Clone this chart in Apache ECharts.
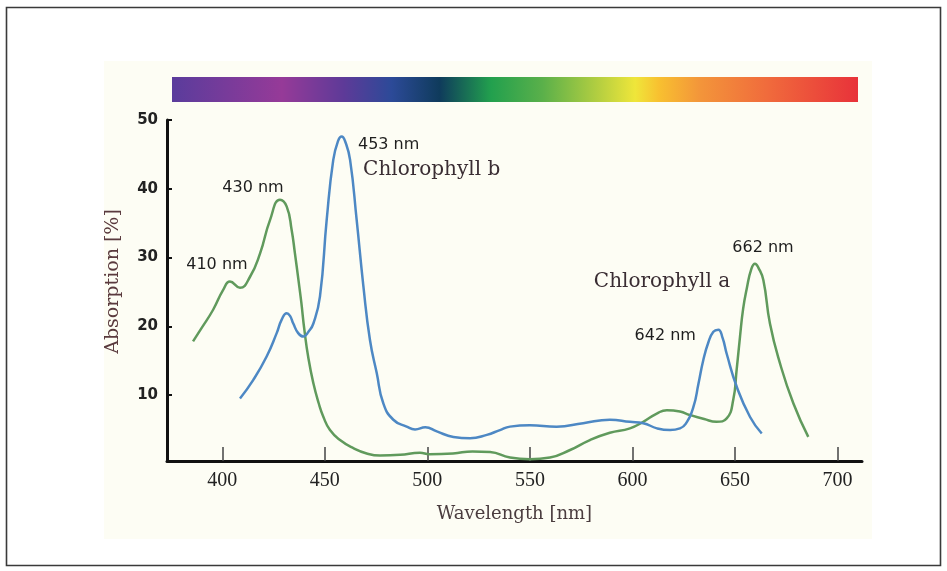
<!DOCTYPE html>
<html><head><meta charset="utf-8">
<script src="https://cdn.jsdelivr.net/npm/echarts@6/dist/echarts.min.js"></script>
<style>html,body{margin:0;padding:0;background:#fff}#c{width:947px;height:571px}</style>
</head><body><div id="c"></div>
<script>
const xTicks = [400, 450, 500, 550, 600, 650, 700];
const yTicks = [10, 20, 30, 40, 50];
const seriesNames = ['Chlorophyll a', 'Chlorophyll b'];
const axisNames = ['Wavelength [nm]', 'Absorption [%]'];

const chlA_nm = [385.7, 390, 395.5, 400.4, 403.7, 408.6, 413.5, 418.4, 423.2, 428.1, 431.4, 433.8, 435.4, 437, 438.5, 440, 442, 444.4, 447, 449.3, 452.5, 457.4, 463.7, 470.4, 476.9, 486.7, 496.4, 501, 512.5, 522, 530.6, 540.3, 550, 559.8, 569.6, 579.3, 589, 598.8, 605.3, 611.9, 616.8, 623.2, 628, 635, 641, 646, 649.2, 650.8, 652.5, 654, 655.8, 658, 659.8, 661.5, 663.9, 667.1, 672, 678.5, 685.8];
const chlA_abs = [17.8, 19.8, 22.4, 25.3, 26.5, 25.6, 27.2, 30.6, 35.4, 38.4, 37.4, 34, 30.6, 27, 23.5, 19.5, 15.3, 11.7, 8.8, 6.8, 4.9, 3.45, 2.3, 1.5, 1.2, 1.3, 1.6, 1.4, 1.5, 1.8, 1.7, 0.9, 0.65, 0.9, 2.0, 3.45, 4.5, 5.15, 6.1, 7.3, 7.8, 7.6, 7.1, 6.5, 6.1, 6.6, 9.3, 13.5, 18.5, 22.5, 25.5, 28.3, 29.1, 28.5, 26.7, 20.4, 14.6, 8.8, 3.9];

const chlB_nm = [408.6, 415.1, 421.6, 426.5, 429, 431.4, 433, 434.6, 437, 439.5, 442, 444.4, 447.6, 450.9, 454.1, 456.5, 458.2, 460, 462.3, 465.5, 468.8, 472, 475.3, 478.5, 483.4, 489.9, 494, 499, 504.6, 512.7, 520.8, 529, 535.4, 540.3, 550, 563, 576, 589, 598.8, 605.3, 612, 618.4, 623.2, 626, 629.8, 632.2, 634.6, 637, 639.5, 641.9, 644, 646, 650.9, 657.4, 663.1];
const chlB_abs = [9.5, 12.2, 15.6, 19, 21, 21.9, 21.5, 20.4, 19, 18.5, 19.2, 20.4, 24.3, 35.5, 44.2, 47, 47.6, 46.8, 44.2, 35.5, 25.8, 18, 13.2, 8.8, 6.4, 5.4, 5.0, 5.3, 4.7, 3.9, 3.7, 4.2, 4.9, 5.4, 5.6, 5.4, 5.9, 6.4, 6.1, 5.9, 5.15, 4.9, 5.15, 5.8, 8.3, 11.6, 15.1, 17.6, 19.2, 19.5, 18.3, 16, 11.2, 6.8, 4.4];

const peakLabelsA = ['410 nm', '430 nm', '662 nm'];
const peakLabelsB = ['453 nm', '642 nm'];

function pairs(xs, ys) { return xs.map((x, i) => [x, ys[i]]); }
function peak(xs, ys, lo, hi) {
  let best = null;
  xs.forEach((x, i) => { if (x >= lo && x <= hi && (!best || ys[i] > best[1])) best = [x, ys[i]]; });
  return best;
}

const sansLbl = { fontFamily: 'DejaVu Sans', fontSize: 16, color: '#1e1e1e' };
const serifLbl = { fontFamily: 'DejaVu Serif', fontSize: 20, color: '#3a2d33' };
function mp(coord, text, offset, style) {
  return { coord: coord, label: Object.assign({ show: true, position: 'inside', formatter: text, offset: offset }, style) };
}

const pA410 = peak(chlA_nm, chlA_abs, 400, 406);
const pA430 = peak(chlA_nm, chlA_abs, 420, 436);
const pA662 = peak(chlA_nm, chlA_abs, 650, 670);
const pB453 = peak(chlB_nm, chlB_abs, 450, 466);
const pB642 = peak(chlB_nm, chlB_abs, 635, 650);

const chart = echarts.init(document.getElementById('c'), null, { renderer: 'canvas' });
chart.setOption({
  animation: false,
  backgroundColor: '#ffffff',
  graphic: [
    { type: 'rect', z: -20, shape: { x: 6.5, y: 7.5, width: 934, height: 558 }, style: { fill: '#ffffff', stroke: '#3a3a3a', lineWidth: 1.6 } },
    { type: 'rect', z: -19, shape: { x: 104, y: 61, width: 768, height: 478 }, style: { fill: '#fdfdf4' } },
    { type: 'rect', z: -18, shape: { x: 172, y: 77, width: 686, height: 25 }, style: {
      fill: new echarts.graphic.LinearGradient(0, 0, 1, 0, [
        { offset: 0, color: '#5a3c9c' },
        { offset: 0.16, color: '#963a98' },
        { offset: 0.25, color: '#5e3a98' },
        { offset: 0.32, color: '#2c4a98' },
        { offset: 0.39, color: '#0f3b5c' },
        { offset: 0.465, color: '#22a04e' },
        { offset: 0.54, color: '#5ab04a' },
        { offset: 0.625, color: '#b8d040' },
        { offset: 0.675, color: '#efe63a' },
        { offset: 0.71, color: '#f8c030' },
        { offset: 0.77, color: '#f3953a' },
        { offset: 0.87, color: '#f06a3c' },
        { offset: 1, color: '#e8323a' }
      ]) } }
  ],
  grid: { left: 167, right: 85, top: 120, bottom: 110, containLabel: false },
  xAxis: {
    type: 'value', min: 373, max: 712,
    name: axisNames[0], nameLocation: 'middle', nameGap: 44,
    nameTextStyle: { fontFamily: 'DejaVu Serif', fontSize: 18, color: '#4a3c3e' },
    axisLine: { show: true, onZero: false, lineStyle: { color: '#111', width: 3 } },
    axisTick: { show: true, inside: true, length: 14, customValues: xTicks, lineStyle: { color: '#444', width: 1.5 } },
    axisLabel: { customValues: xTicks, margin: 10, fontFamily: 'Liberation Serif', fontSize: 20, color: '#222' },
    splitLine: { show: false }
  },
  yAxis: {
    type: 'value', min: 0.4, max: 50,
    name: axisNames[1], nameLocation: 'middle', nameRotate: 90, nameGap: 44,
    nameTextStyle: { fontFamily: 'DejaVu Serif', fontSize: 19, color: '#5a3a3e', padding: [0, 0, 0, 18] },
    axisLine: { show: true, onZero: false, lineStyle: { color: '#111', width: 3 } },
    axisTick: { show: true, inside: true, length: 5, customValues: yTicks, lineStyle: { color: '#111', width: 2 } },
    axisLabel: { customValues: yTicks, margin: 9, fontFamily: 'DejaVu Sans', fontWeight: 'bold', fontSize: 15, color: '#222' },
    splitLine: { show: false }
  },
  series: [
    {
      name: seriesNames[0], type: 'line', data: pairs(chlA_nm, chlA_abs),
      showSymbol: false, smooth: 0.5,
      lineStyle: { color: '#609a5c', width: 2.5 }, itemStyle: { color: '#609a5c' },
      markPoint: {
        symbol: 'circle', symbolSize: 1, itemStyle: { color: 'rgba(0,0,0,0)' }, silent: true,
        data: [
          mp(pA410, peakLabelsA[0], [-13, -17], sansLbl),
          mp(pA430, peakLabelsA[1], [-27, -12], sansLbl),
          mp(pA662, peakLabelsA[2], [8, -16], sansLbl),
          mp(pA662, seriesNames[0], [-93, 18], serifLbl)
        ]
      }
    },
    {
      name: seriesNames[1], type: 'line', data: pairs(chlB_nm, chlB_abs),
      showSymbol: false, smooth: 0.5,
      lineStyle: { color: '#4d88c4', width: 2.5 }, itemStyle: { color: '#4d88c4' },
      markPoint: {
        symbol: 'circle', symbolSize: 1, itemStyle: { color: 'rgba(0,0,0,0)' }, silent: true,
        data: [
          mp(pB453, peakLabelsB[0], [47, 8], sansLbl),
          mp(pB453, seriesNames[1], [90, 33], serifLbl),
          mp(pB642, peakLabelsB[1], [-53, 6], sansLbl)
        ]
      }
    }
  ]
});
</script></body></html>
